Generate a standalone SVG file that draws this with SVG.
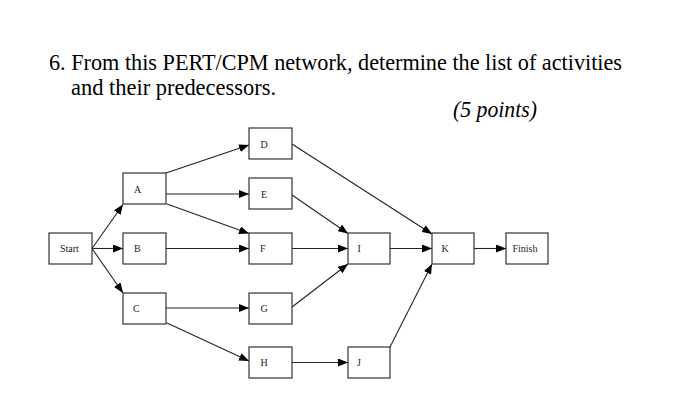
<svg xmlns="http://www.w3.org/2000/svg" width="700" height="406" viewBox="0 0 700 406">
<style>
.title{font-family:"Liberation Serif","Times New Roman",serif;font-size:24px;fill:#000}
.pts{font-family:"Liberation Serif","Times New Roman",serif;font-size:24px;font-style:italic;fill:#000}
.box{fill:#fff;stroke:#333;stroke-width:1.2}
.lbl{font-family:"Liberation Serif","Times New Roman",serif;font-size:10px;fill:#222}
.edge{stroke:#222;stroke-width:1.1;fill:none;marker-end:url(#arr)}
</style>
<defs>
<marker id="arr" markerUnits="userSpaceOnUse" markerWidth="10" markerHeight="8" refX="10" refY="4" orient="auto">
<path d="M0,0 L10,4 L0,8 Z" fill="#000"/>
</marker>
</defs>
<rect width="700" height="406" fill="#fff"/>
<g id="title">
<text class="title" x="49" y="70" textLength="573" lengthAdjust="spacingAndGlyphs">6. From this PERT/CPM network, determine the list of activities</text>
<text class="title" x="71" y="95" textLength="205" lengthAdjust="spacingAndGlyphs">and their predecessors.</text>
<text class="pts" x="453" y="117" textLength="84" lengthAdjust="spacingAndGlyphs">(5 points)</text>
</g>
<g id="connectors">
<line class="edge" x1="92" y1="248.5" x2="123" y2="204.5"/>
<line class="edge" x1="92" y1="248.5" x2="123" y2="248.5"/>
<line class="edge" x1="92" y1="248.5" x2="123" y2="293"/>
<line class="edge" x1="166" y1="173" x2="249" y2="145"/>
<line class="edge" x1="166" y1="194" x2="249" y2="194"/>
<line class="edge" x1="167" y1="204" x2="249" y2="233.5"/>
<line class="edge" x1="166" y1="248.5" x2="249" y2="248.5"/>
<line class="edge" x1="166" y1="308" x2="249" y2="308"/>
<line class="edge" x1="167" y1="323" x2="249" y2="361"/>
<line class="edge" x1="292" y1="144" x2="432" y2="234"/>
<line class="edge" x1="292" y1="195" x2="348" y2="233.5"/>
<line class="edge" x1="292" y1="248.5" x2="348" y2="248.5"/>
<line class="edge" x1="292" y1="307" x2="348" y2="264"/>
<line class="edge" x1="292" y1="362.5" x2="348" y2="362.5"/>
<line class="edge" x1="390" y1="248.5" x2="432" y2="248.5"/>
<line class="edge" x1="389.5" y1="348" x2="432" y2="264"/>
<line class="edge" x1="474" y1="248.5" x2="506" y2="248.5"/>
</g>
<g id="node-start"><rect class="box" x="49" y="233" width="43" height="31"/><text class="lbl" x="60" y="252">Start</text></g>
<g id="node-A"><rect class="box" x="123" y="173" width="43" height="31"/><text class="lbl" x="134" y="192.5">A</text></g>
<g id="node-B"><rect class="box" x="123" y="233" width="43" height="31"/><text class="lbl" x="134" y="252">B</text></g>
<g id="node-C"><rect class="box" x="123" y="293" width="43" height="31"/><text class="lbl" x="133" y="312">C</text></g>
<g id="node-D"><rect class="box" x="249" y="128" width="43" height="31"/><text class="lbl" x="260.5" y="147.5">D</text></g>
<g id="node-E"><rect class="box" x="249" y="178" width="43" height="31"/><text class="lbl" x="261" y="197.5">E</text></g>
<g id="node-F"><rect class="box" x="249" y="233" width="43" height="31"/><text class="lbl" x="260" y="252">F</text></g>
<g id="node-G"><rect class="box" x="249" y="293" width="43" height="31"/><text class="lbl" x="260.5" y="312">G</text></g>
<g id="node-H"><rect class="box" x="249" y="347" width="43" height="31"/><text class="lbl" x="260.5" y="366">H</text></g>
<g id="node-I"><rect class="box" x="348" y="233" width="42" height="31"/><text class="lbl" x="357.5" y="252">I</text></g>
<g id="node-J"><rect class="box" x="348" y="347" width="42" height="31"/><text class="lbl" x="357" y="366">J</text></g>
<g id="node-K"><rect class="box" x="432" y="233" width="42" height="31"/><text class="lbl" x="441.5" y="252">K</text></g>
<g id="node-finish"><rect class="box" x="506" y="233" width="42" height="31"/><text class="lbl" x="512.5" y="252">Finish</text></g>
</svg>
